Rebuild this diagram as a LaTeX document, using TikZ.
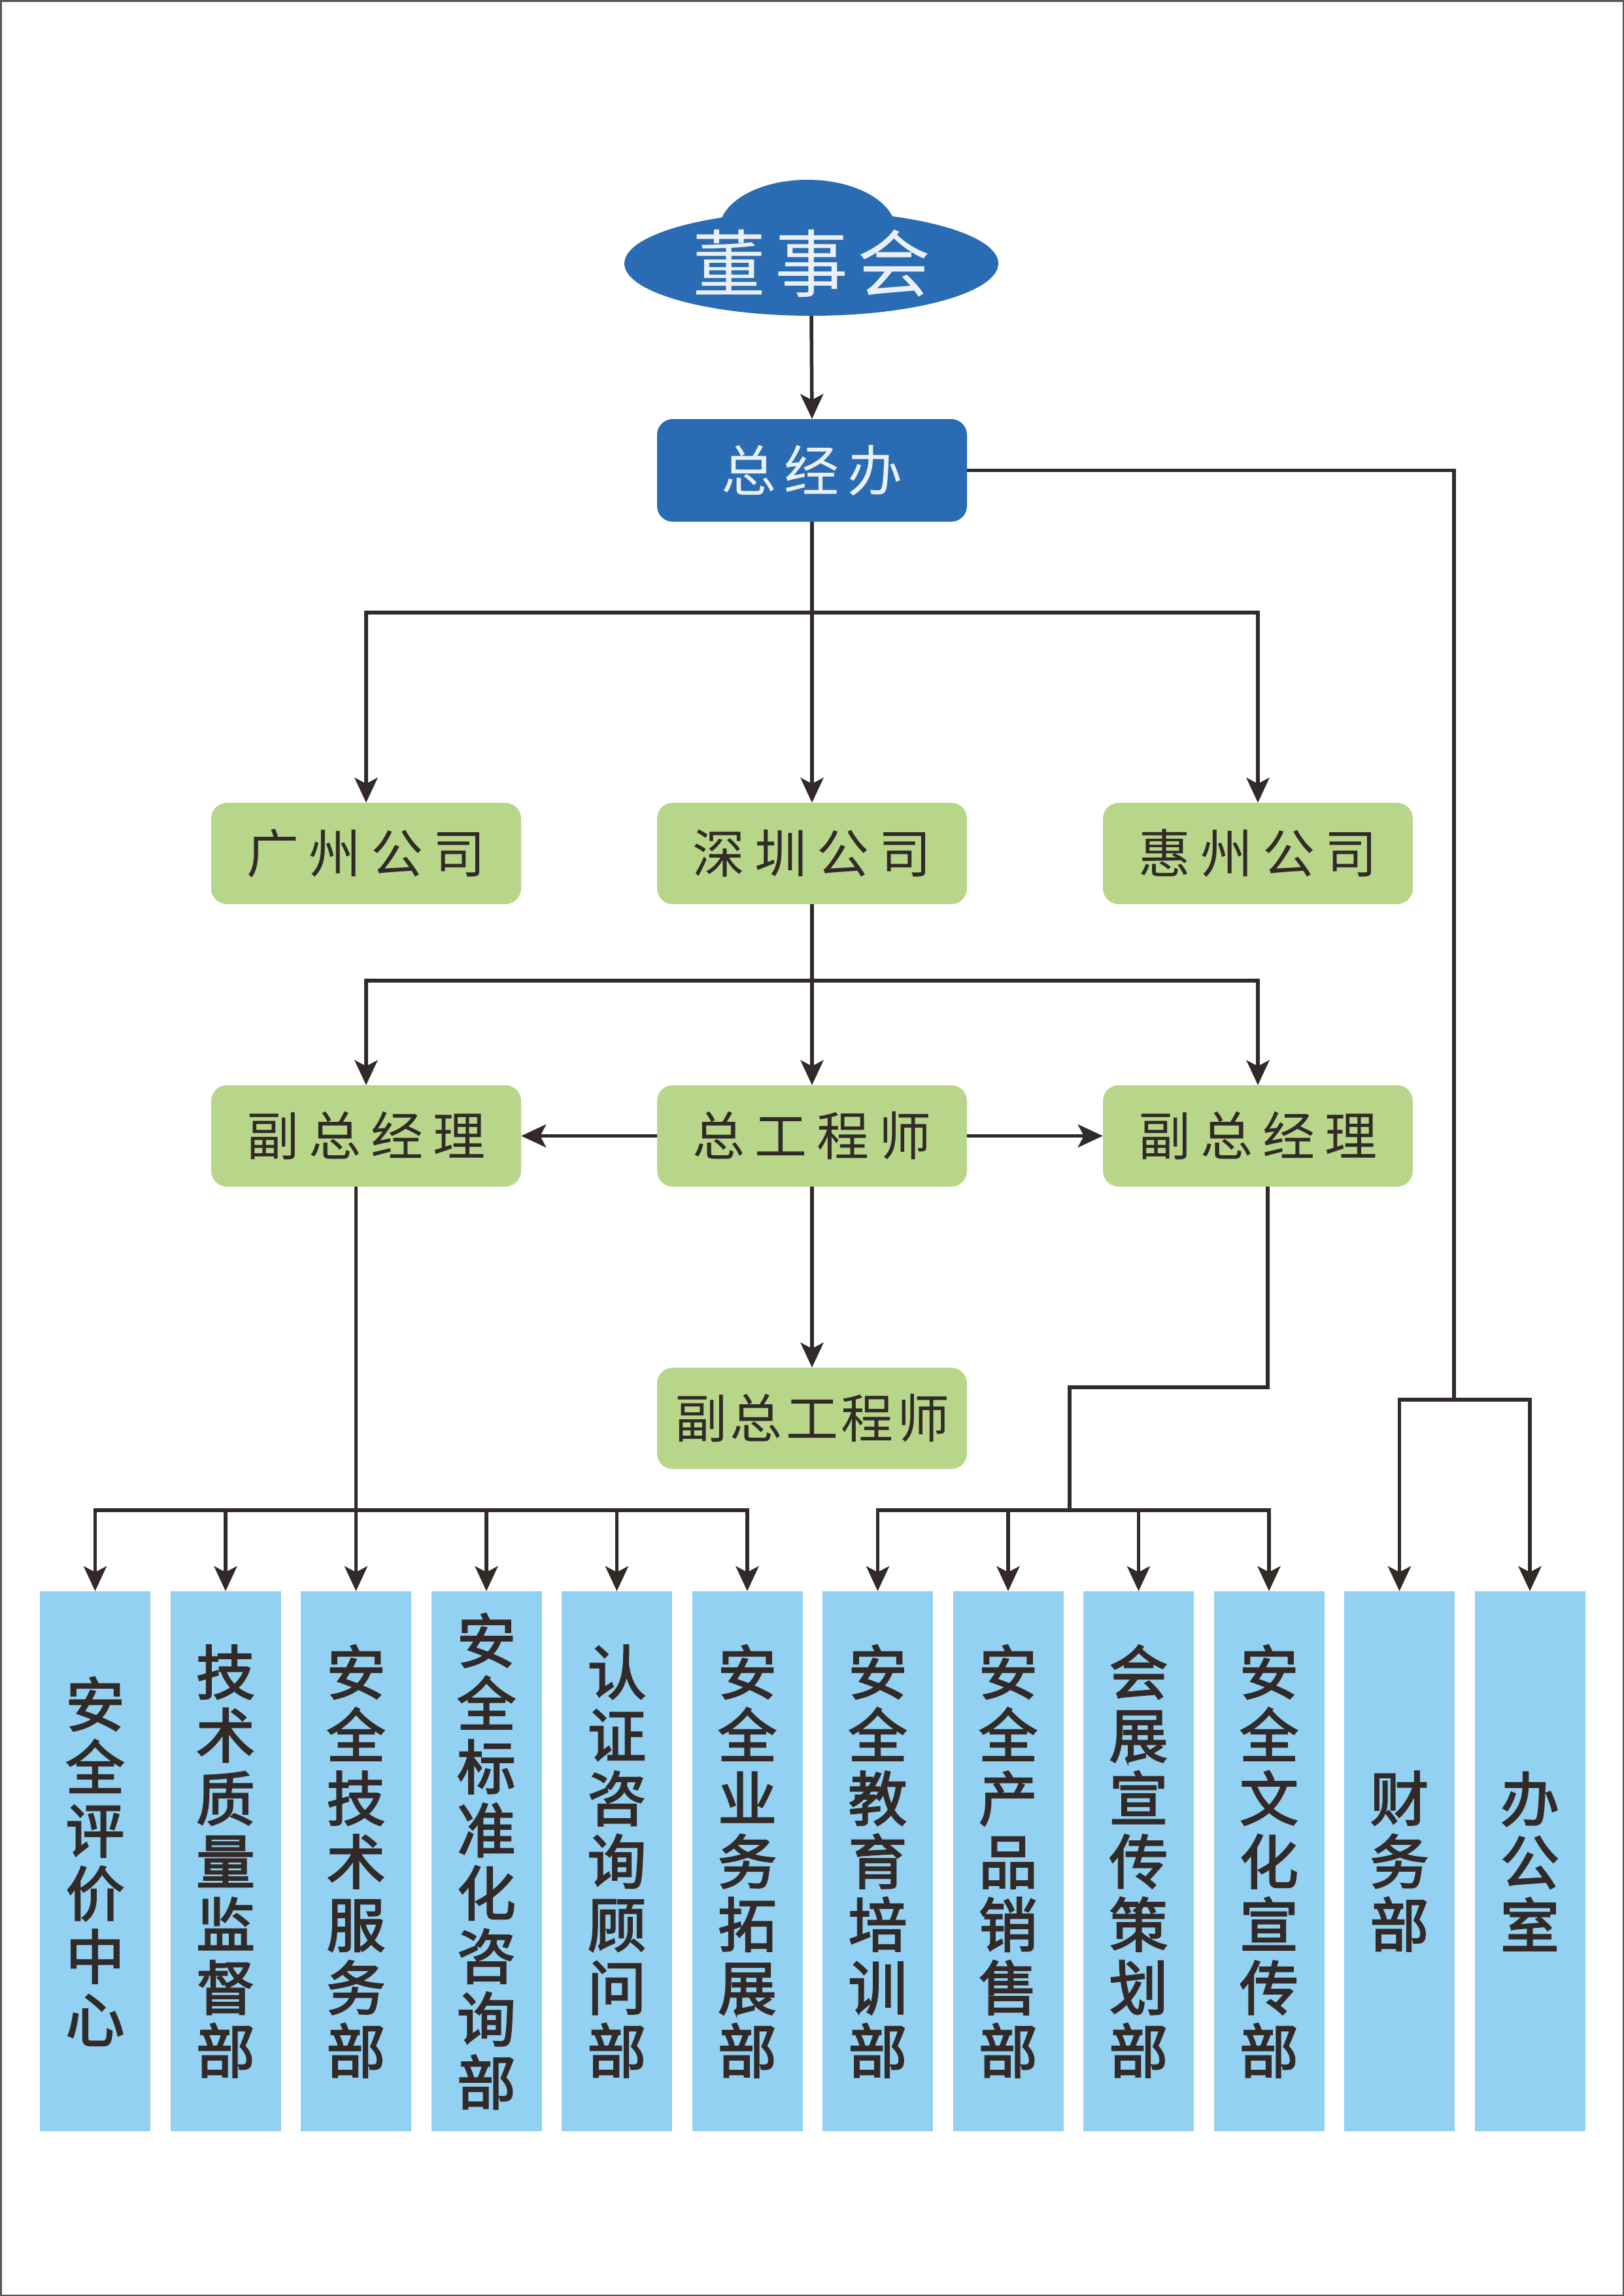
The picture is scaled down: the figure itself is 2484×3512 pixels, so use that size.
\documentclass[tikz,border=0pt]{standalone}
\usepackage{fontspec}
\newfontfamily\cjk{Noto Sans CJK SC}
\newfontfamily\cjkm{Noto Sans CJK SC}[FakeBold=2.5]
\usetikzlibrary{arrows.meta,shapes.geometric,calc}
\definecolor{dblue}{RGB}{42,108,180}
\definecolor{lgreen}{RGB}{184,214,137}
\definecolor{lblue}{RGB}{146,209,241}
\definecolor{inkc}{RGB}{49,42,41}
\definecolor{wtext}{RGB}{234,240,247}
\definecolor{framec}{RGB}{85,85,85}
\newdimen\lsk
\def\lsp#1#2{\lsk=#1\relax\lspB#2\relax}
\def\lspB#1{#1\lspA}
\def\lspA#1{\ifx#1\relax\else\kern\lsk#1\expandafter\lspA\fi}
\begin{document}
\begin{tikzpicture}[x=1pt,y=-1pt,
  conn/.style={draw=inkc,line width=5.5pt},
  arr/.style={conn,-{Stealth[length=38pt,width=35pt,inset=9pt]}},
  gbox/.style={rectangle,rounded corners=24pt,fill=lgreen,minimum width=474pt,minimum height=155pt,inner sep=0pt,text=inkc,font=\cjk\fontsize{80}{96}\selectfont},
  dbox/.style={rectangle,rounded corners=24pt,fill=dblue,minimum width=474pt,minimum height=157pt,inner sep=0pt,text=wtext,font=\cjk\fontsize{84}{96}\selectfont},
  bbox/.style={rectangle,fill=lblue,minimum width=169pt,minimum height=826pt,inner sep=0pt,text=inkc,align=center,font=\cjkm\fontsize{90}{96.5}\selectfont},
]
\useasboundingbox (0,0) rectangle (2484,3512);
\fill[white] (0,0) rectangle (2484,3512);
\draw[framec,line width=2.5pt] (1.25,1.25) rectangle (2482.75,3510.75);

% cloud
\fill[dblue] (1235,352) ellipse [x radius=135, y radius=77];
\node[ellipse,fill=dblue,minimum width=572pt,minimum height=160pt,inner sep=0pt,text=wtext,font=\cjk\fontsize{112}{130}\selectfont] (board) at (1241,403) {\lsp{14pt}{董事会}};

\node[dbox] (gm) at (1242,719.5) {\lsp{13pt}{总经办}};

\node[gbox] (gz) at (560,1305.5) {\lsp{15pt}{广州公司}};
\node[gbox] (sz) at (1242,1305.5) {\lsp{15pt}{深圳公司}};
\node[gbox] (hz) at (1924,1305.5) {\lsp{15pt}{惠州公司}};

\node[gbox] (vpL) at (560,1737.5) {\lsp{15pt}{副总经理}};
\node[gbox] (zgs) at (1242,1737.5) {\lsp{15pt}{总工程师}};
\node[gbox] (vpR) at (1924,1737.5) {\lsp{15pt}{副总经理}};
\node[gbox] (fzgs) at (1242,2169.5) {\lsp{5pt}{副总工程师}};

\node[bbox] (b1) at (145.5,2847) {安\\全\\评\\价\\中\\心};
\node[bbox] (b2) at (345,2847) {技\\术\\质\\量\\监\\督\\部};
\node[bbox] (b3) at (544.5,2847) {安\\全\\技\\术\\服\\务\\部};
\node[bbox] (b4) at (744,2847) {安\\全\\标\\准\\化\\咨\\询\\部};
\node[bbox] (b5) at (943.5,2847) {认\\证\\咨\\询\\顾\\问\\部};
\node[bbox] (b6) at (1143,2847) {安\\全\\业\\务\\拓\\展\\部};
\node[bbox] (b7) at (1342.5,2847) {安\\全\\教\\育\\培\\训\\部};
\node[bbox] (b8) at (1542,2847) {安\\全\\产\\品\\销\\售\\部};
\node[bbox] (b9) at (1741.5,2847) {会\\展\\宣\\传\\策\\划\\部};
\node[bbox] (b10) at (1941,2847) {安\\全\\文\\化\\宣\\传\\部};
\node[bbox] (b11) at (2140.5,2847) {财\\务\\部};
\node[bbox] (b12) at (2340,2847) {办\\公\\室};

% connectors
\draw[arr] (board.south) -- (gm.north);
\coordinate (bus1) at (1242,937);
\draw[arr] (gm.south) -- (sz.north);
\draw[arr] (bus1) -| (gz.north);
\draw[arr] (bus1) -| (hz.north);

\coordinate (bus2) at (1242,1500);
\draw[arr] (sz.south) -- (zgs.north);
\draw[arr] (bus2) -| (vpL.north);
\draw[arr] (bus2) -| (vpR.north);
\draw[arr] (zgs.west) -- (vpL.east);
\draw[arr] (zgs.east) -- (vpR.west);
\draw[arr] (zgs.south) -- (fzgs.north);

\coordinate (busL) at (544.5,2310);
\draw[arr] (vpL.south -| b3.north) -- (b3.north);
\foreach \b in {b1,b2,b4,b5,b6} \draw[arr] (busL) -| (\b.north);

\coordinate (kR) at (1636,2122);
\coordinate (busR) at (1636,2310);
\draw[conn] ($(vpR.south)+(15,0)$) |- (kR) -- (busR);
\foreach \b in {b7,b8,b9,b10} \draw[arr] (busR) -| (\b.north);

\coordinate (kO) at (2224,2141);
\draw[conn] (gm.east) -| (kO);
\draw[arr] (kO) -| (b11.north);
\draw[arr] (kO) -| (b12.north);
\end{tikzpicture}
\end{document}
